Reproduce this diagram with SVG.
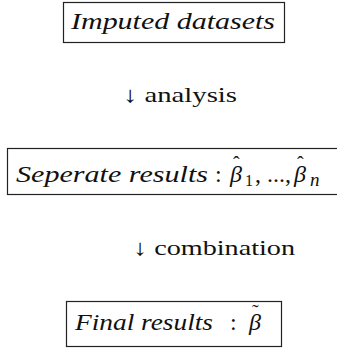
<svg xmlns="http://www.w3.org/2000/svg" width="337" height="351" viewBox="0 0 337 351">
<style>
.box{fill:#fff;stroke:#222;stroke-width:1.2}
text{font-family:'Liberation Serif','Times New Roman','DejaVu Serif','Noto Serif',Times,serif;fill:#111}
.m{font-style:italic;font-size:24px}
.r{font-style:normal}
.sub{font-style:normal;font-size:16px}
.acc{font-style:normal;font-size:20px}
.lbl{font-size:22px}
</style>
<rect width="337" height="351" fill="#fff"/>
<g id="imputed">
<rect class="box" x="63.5" y="2.5" width="221" height="40"/>
<text class="m" x="71" y="29" textLength="204" lengthAdjust="spacingAndGlyphs">Imputed datasets</text>
</g>
<g id="connectors">
<g id="analysis">
<text class="lbl" x="123" y="102" textLength="114" lengthAdjust="spacingAndGlyphs">↓ analysis</text>
</g>
<g id="combination">
<text class="lbl" x="133" y="255" textLength="162" lengthAdjust="spacingAndGlyphs">↓ combination</text>
</g>
</g>
<g id="separate">
<rect class="box" x="7.5" y="148.5" width="340" height="46"/>
<text class="m" y="182"><tspan x="16" textLength="192" lengthAdjust="spacingAndGlyphs">Seperate results</tspan><tspan class="r" x="215">:</tspan><tspan x="230">β</tspan><tspan class="acc" x="233" y="171">ˆ</tspan><tspan class="sub" x="245" y="186">1</tspan><tspan class="r" x="255" y="182">, ..., </tspan><tspan x="294">β</tspan><tspan class="acc" x="297" y="171">ˆ</tspan><tspan x="310" y="186" font-size="19">n</tspan></text>
</g>
<g id="final">
<rect class="box" x="66.5" y="301.5" width="215" height="45"/>
<text class="m" y="330"><tspan x="75" textLength="138" lengthAdjust="spacingAndGlyphs">Final results</tspan><tspan class="r" x="230">:</tspan><tspan x="249">β</tspan><tspan class="acc" x="252" y="319">˜</tspan></text>
</g>
</svg>
